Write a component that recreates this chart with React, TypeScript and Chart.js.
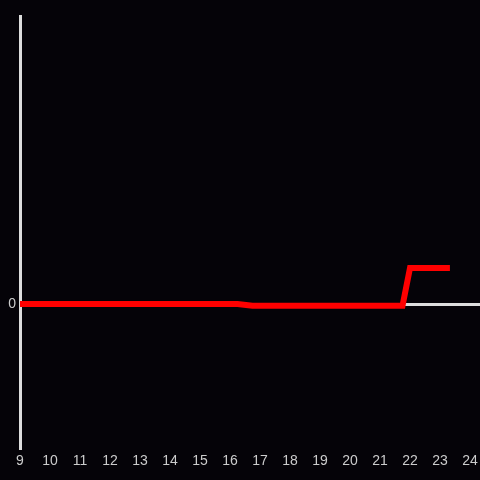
import React, { useEffect, useRef } from "react";
import { Chart, registerables } from "chart.js";

Chart.register(...registerables);

const hours: number[] = [9, 16.25, 16.75, 21.75, 22, 23.33];
const values: number[] = [0, 0, -0.012, -0.012, 0.25, 0.25];
const xTickMin = 9;
const xTickMax = 24;
const yTickLabels: number[] = [0];

export default function App() {
  const ref = useRef<HTMLCanvasElement | null>(null);

  useEffect(() => {
    document.body.style.margin = "0";
    document.body.style.background = "#050308";
    const canvas = ref.current;
    if (!canvas) return;
    const data = hours.map((h, i) => ({ x: h, y: values[i] }));
    const chart = new Chart(canvas, {
      type: "line",
      data: {
        datasets: [
          {
            data,
            borderColor: "#ff0000",
            borderWidth: 6,
            borderJoinStyle: "miter",
            borderCapStyle: "butt",
            pointRadius: 0,
            tension: 0,
            fill: false,
          },
        ],
      },
      options: {
        animation: false,
        responsive: false,
        maintainAspectRatio: false,
        layout: { padding: { top: 16, left: 0, right: 0, bottom: 0 } },
        plugins: { legend: { display: false }, tooltip: { enabled: false } },
        scales: {
          x: {
            type: "linear",
            min: xTickMin,
            max: 24.333,
            afterBuildTicks: (scale: any) => {
              const t = [];
              for (let v = xTickMin; v <= xTickMax; v++) t.push({ value: v });
              scale.ticks = t;
            },
            afterFit: (scale: any) => {
              scale.height = 32;
              scale.paddingLeft = 0;
              scale.paddingRight = 0;
            },
            grid: { display: false, drawTicks: false },
            border: { display: false },
            ticks: {
              color: "#cccccc",
              font: { family: "Liberation Sans, Arial, sans-serif", size: 14 },
              padding: 5,
              maxRotation: 0,
              autoSkip: false,
            },
          },
          y: {
            type: "linear",
            min: -1,
            max: 2,
            afterBuildTicks: (scale: any) => {
              scale.ticks = yTickLabels.map((v) => ({ value: v }));
            },
            afterFit: (scale: any) => {
              scale.width = 20;
              scale.paddingTop = 0;
              scale.paddingBottom = 0;
            },
            grid: {
              drawTicks: false,
              lineWidth: 3,
              color: (ctx: any) => (ctx.tick && ctx.tick.value === 0 ? "#dddddd" : "transparent"),
            },
            border: { display: true, color: "#dddddd", width: 3 },
            ticks: {
              color: "#cccccc",
              font: { family: "Liberation Sans, Arial, sans-serif", size: 14 },
              padding: 4,
            },
          },
        },
      },
    } as any);
    return () => chart.destroy();
  }, []);

  return (
    <div style={{ position: "fixed", left: 0, top: 0, width: 480, height: 480, background: "#050308" }}>
      <canvas ref={ref} width={480} height={480} style={{ display: "block" }} />
    </div>
  );
}
